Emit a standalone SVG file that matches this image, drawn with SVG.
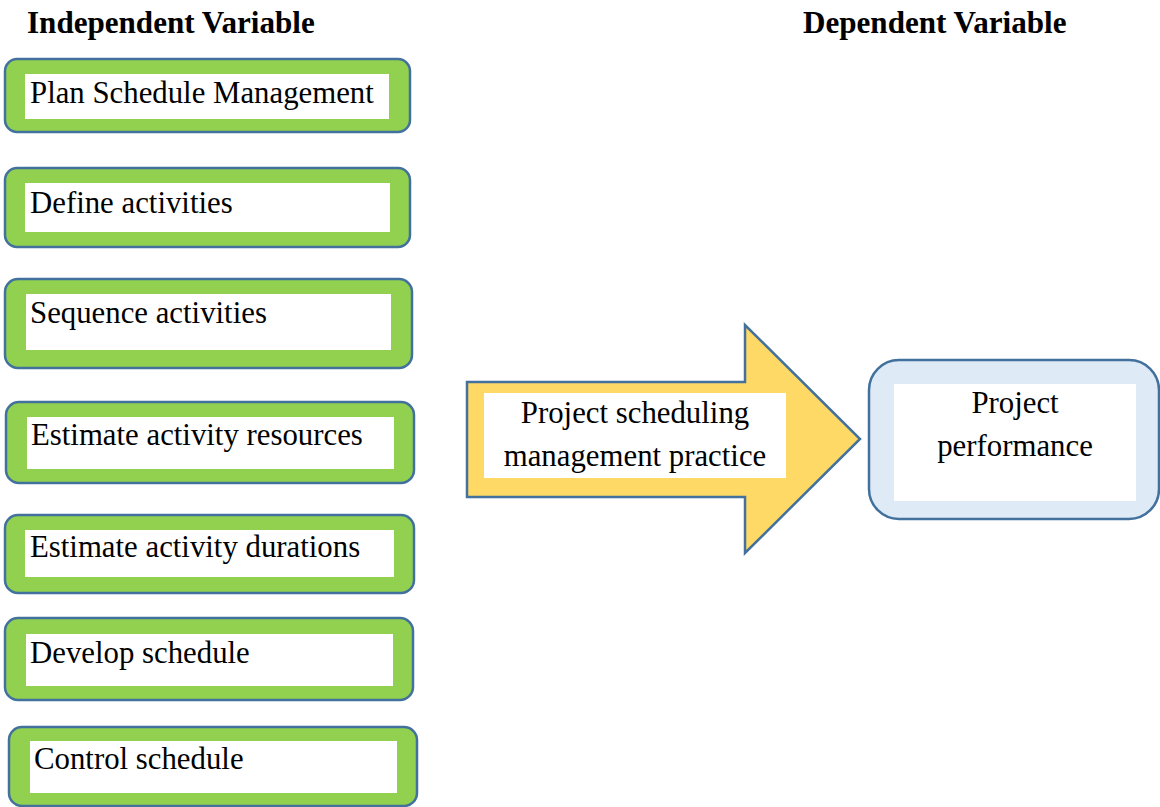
<svg xmlns="http://www.w3.org/2000/svg" width="1160" height="807" viewBox="0 0 1160 807">
<style>
.box{fill:#92D050;stroke:#41719C;stroke-width:2.5}
.inner{fill:#FFFFFF}
.t{font-family:"Liberation Serif","Times New Roman",serif;font-size:30.8px;fill:#000}
.h{font-family:"Liberation Serif","Times New Roman",serif;font-size:31.1px;font-weight:bold;fill:#000}
.arrow{fill:#FFD966;stroke:#41719C;stroke-width:2.5;stroke-linejoin:miter}
.dep{fill:#DEEAF6;stroke:#41719C;stroke-width:2.5}
</style>
<rect width="1160" height="807" fill="#FFFFFF"/>
<text class="h" x="27" y="33">Independent Variable</text>
<text class="h" x="803" y="33">Dependent Variable</text>
<g id="n1"><rect class="box" x="5" y="59" width="405" height="73" rx="12"/><rect class="inner" x="25" y="74" width="364" height="45"/><text class="t" x="30" y="103">Plan Schedule Management</text></g>
<g id="n2"><rect class="box" x="5" y="168" width="405" height="79" rx="12"/><rect class="inner" x="25" y="183" width="365" height="49"/><text class="t" x="30" y="213">Define activities</text></g>
<g id="n3"><rect class="box" x="5" y="279" width="407" height="89" rx="13"/><rect class="inner" x="26" y="294" width="365" height="56"/><text class="t" x="30" y="323">Sequence activities</text></g>
<g id="n4"><rect class="box" x="6" y="402" width="408" height="81" rx="13"/><rect class="inner" x="27" y="417" width="367" height="52"/><text class="t" x="31" y="445">Estimate activity resources</text></g>
<g id="n5"><rect class="box" x="5" y="515" width="409" height="78" rx="13"/><rect class="inner" x="25" y="530" width="369" height="47"/><text class="t" x="30" y="557">Estimate activity durations</text></g>
<g id="n6"><rect class="box" x="5" y="618" width="408" height="82" rx="13"/><rect class="inner" x="26" y="634" width="367" height="52"/><text class="t" x="30" y="663">Develop schedule</text></g>
<g id="n7"><rect class="box" x="9" y="727" width="408" height="79" rx="13"/><rect class="inner" x="30" y="741" width="367" height="52"/><text class="t" x="34" y="769">Control schedule</text></g>
<g id="connectors">
<g id="arrow"><polygon class="arrow" points="467,382 745,382 745,325 860,439 745,553 745,497 467,497"/><rect class="inner" x="484" y="393" width="302" height="85"/><text class="t" x="635" y="423" text-anchor="middle">Project scheduling</text><text class="t" x="635" y="466" text-anchor="middle">management practice</text></g>
</g>
<g id="n8"><rect class="dep" x="869" y="360" width="290" height="159" rx="30"/><rect class="inner" x="894" y="384" width="242" height="117"/><text class="t" x="1015" y="413" text-anchor="middle">Project</text><text class="t" x="1015" y="456" text-anchor="middle">performance</text></g>
</svg>
